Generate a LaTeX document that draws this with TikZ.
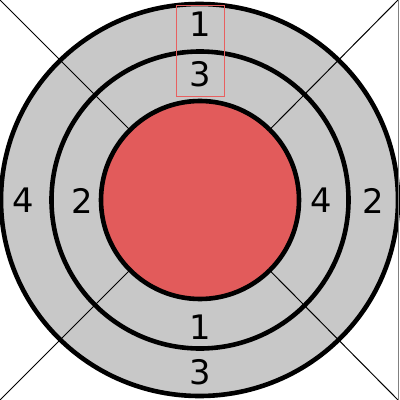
\documentclass[tikz,border=0pt]{standalone}
\usepackage{fontspec}
\setmainfont{DejaVu Sans}
\usetikzlibrary{shapes.geometric}
\definecolor{ringgray}{RGB}{200,200,200}
\definecolor{discred}{RGB}{226,91,91}
\definecolor{boxred}{RGB}{232,96,96}
\definecolor{edgegray}{RGB}{128,128,128}
\def\px{0.025cm}
\tikzset{
  ring/.style={ellipse, fill=ringgray, draw=black, line width=4.6*\px, inner sep=0pt},
  disc/.style={circle, fill=discred, draw=black, line width=4.6*\px, inner sep=0pt},
  spoke/.style={draw=black, line width=1*\px},
  lbl/.style={inner sep=0pt, font=\fontsize{24pt}{28pt}\selectfont, text=black},
  hlbox/.style={draw=boxred, line width=1*\px, inner sep=0pt, minimum width=48*\px, minimum height=91*\px}
}
\begin{document}
\begin{tikzpicture}[x=\px,y=-\px]
\useasboundingbox (0,0) rectangle (400,400);
\coordinate (c) at (200,200);
\coordinate (tl) at (0,0);
\coordinate (tr) at (398,0);
\coordinate (bl) at (0,400);
\coordinate (br) at (398,400);
\coordinate (et) at (398.5,0);
\coordinate (eb) at (398.5,400);
\node[ring, minimum width=397*\px, minimum height=392*\px] (outer) at (199.5,200) {};
\node[ring, minimum size=297*\px] (middle) at (c) {};
\draw[spoke] (tl) -- (c);
\draw[spoke] (tr) -- (c);
\draw[spoke] (bl) -- (c);
\draw[spoke] (br) -- (c);
\node[disc, minimum size=198*\px] (inner) at (c) {};
\draw[draw=edgegray, line width=1*\px] (et) -- (eb);
\node[lbl] (t1) at (200,24.5) {1};
\node[lbl] (t3) at (200,74.5) {3};
\node[lbl] (l4) at (23,200.5) {4};
\node[lbl] (l2) at (82.5,200.5) {2};
\node[lbl] (r4) at (321,200.5) {4};
\node[lbl] (r2) at (373,200.5) {2};
\node[lbl] (b1) at (200,327) {1};
\node[lbl] (b3) at (200,372.5) {3};
\node[hlbox] (hl) at (200,51.5) {};
\end{tikzpicture}
\end{document}
